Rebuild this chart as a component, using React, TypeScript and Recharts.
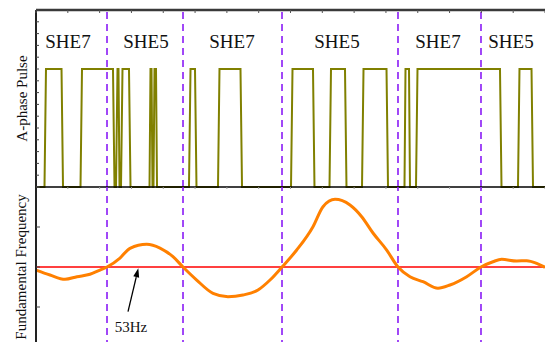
import React from 'react';
import { LineChart, Line, XAxis, YAxis, ReferenceLine, ReferenceDot } from 'recharts';

// Time axis (ms) and its tick marks
const timeTicks = [0, 10, 20, 30, 40, 50, 60, 70, 80, 90, 100, 110, 120, 130, 140, 150, 160];

// Instants where the modulation switches between SHE schemes
const switchTimes = [22.32, 46.21, 77.33, 113.79, 139.88];

// Scheme names and where they sit along the time axis
const schemeNames = ['SHE7', 'SHE5', 'SHE7', 'SHE5', 'SHE7', 'SHE5'];
const schemeCenters = [10.06, 34.58, 61.61, 94.62, 126.36, 149.31];

// A-phase switching pulse: [time, level]
const pulsePoints: [number, number][] = [
  [0, 0], [2.67, 0], [3.14, 1], [8.02, 1], [8.49, 0],
  [13.99, 0], [14.46, 1], [24.2, 1], [24.68, 0],
  [25.15, 0], [25.62, 1], [25.93, 1], [26.25, 0],
  [26.72, 0], [27.19, 1], [29.23, 1], [29.71, 0],
  [35.68, 0], [35.99, 1], [36.31, 1], [36.62, 0],
  [36.93, 0], [37.25, 1], [37.72, 1], [38.04, 0],
  [48.09, 0], [48.57, 1], [49.98, 1], [50.45, 0],
  [57.21, 0], [57.68, 1], [64.28, 1], [64.76, 0],
  [80.16, 0], [80.63, 1], [87.07, 1], [87.54, 0],
  [92.26, 0], [92.73, 1], [97.13, 1], [97.6, 0],
  [102.48, 0], [102.95, 1], [110.18, 1], [110.65, 0],
  [115.83, 0], [116.15, 1], [117.25, 1], [117.56, 0],
  [119.45, 0], [119.92, 1], [145.85, 1], [146.33, 0],
  [151.51, 0], [151.98, 1], [155.76, 1], [156.23, 0],
  [160, 0],
];
const pulseTicks = [0, 0.1, 0.2, 0.3, 0.4, 0.5, 0.6, 0.7, 0.8, 0.9, 1, 1.1, 1.2, 1.3, 1.4, 1.5];

// Fundamental frequency (Hz) over time
const freqTimes = [
  0, 4.4, 9.12, 12.89, 16.97, 20.12, 22.32, 26.4, 29.55, 34.8, 38.98, 43.06, 46.21,
  50.51, 55.64, 60.35, 65.07, 69.78, 73.56, 77.33, 81.95, 87.07, 90.22, 93.99, 98.7,
  102.38, 105.93, 110.24, 113.79, 117.56, 121.65, 126.36, 130.14, 135.39, 139.88,
  143.65, 146.39, 151.1, 154.25, 157.39, 160,
];
const freqValues = [
  52.962, 52.9, 52.846, 52.879, 52.909, 52.962, 53.0, 53.112, 53.234, 53.284, 53.237, 53.129, 53.0,
  52.837, 52.671, 52.629, 52.65, 52.712, 52.837, 53.0, 53.212, 53.504, 53.754, 53.846, 53.775,
  53.629, 53.425, 53.212, 53.0, 52.879, 52.816, 52.734, 52.775, 52.879, 53.0,
  53.066, 53.096, 53.075, 53.079, 53.046, 52.996,
];
const freqTicks = [52, 52.5, 53, 53.5, 54];
const nominalFreq = 53;
const nominalLabel = '53Hz';
// arrow from the label up to the nominal line, and the label anchor
const arrowFrom = { t: 28.92, f: 52.441 };
const arrowTo = { t: 32.16, f: 52.984 };
const labelAt = { t: 29.86, f: 52.25 };

const pulseData = pulsePoints.map(([t, v]) => ({ t, v }));
const freqData = freqTimes.map((t, i) => ({ t, f: freqValues[i] }));

const FONT = '"Liberation Serif", "Times New Roman", serif';
const AXIS = '#222';
const DASH = '#8a1cf5';

const axisTitle = (text: string, baseX: number) => (props: any) => {
  const vb = props.viewBox || {};
  const cy = vb.y + vb.height / 2;
  return (
    <text
      x={baseX}
      y={cy}
      transform={`rotate(-90 ${baseX} ${cy})`}
      textAnchor="middle"
      fontFamily={FONT}
      fontSize={15}
      fill="#111"
    >
      {text}
    </text>
  );
};

// inward-pointing tick marks drawn at each tick position
const leftTick = (len: number) => (p: any) => (
  <line x1={p.x} y1={p.y} x2={p.x + len} y2={p.y} stroke="#444" strokeWidth={1} />
);
const topTick = (len: number, color: string) => (p: any) => (
  <line x1={p.x} y1={p.y} x2={p.x} y2={p.y + len} stroke={color} strokeWidth={1} />
);

const switchLines = switchTimes.map((t) => (
  <ReferenceLine
    key={t}
    x={t}
    stroke={DASH}
    strokeWidth={1.6}
    strokeDasharray="7 5"
  />
));

export default function App() {
  return (
    <div style={{ position: 'absolute', left: 0, top: 0, width: 545, height: 342, overflow: 'hidden', background: '#fff' }}>
      <div style={{ position: 'absolute', left: 0, top: 0 }}>
        <LineChart width={545} height={190} data={pulseData} margin={{ top: 0, right: 0, bottom: 0, left: 0 }}>
          <XAxis
            dataKey="t"
            type="number"
            domain={[0, 160]}
            ticks={timeTicks}
            interval={0}
            height={3}
            tickSize={0}
            tickMargin={0}
            tickLine={false}
            tick={topTick(2, '#999')}
            axisLine={{ stroke: '#000', strokeWidth: 1.5 }}
          />
          <XAxis
            xAxisId="top"
            orientation="top"
            dataKey="t"
            type="number"
            domain={[0, 160]}
            ticks={timeTicks}
            interval={0}
            height={10}
            tickSize={0}
            tickMargin={0}
            tickLine={false}
            tick={topTick(3, '#555')}
            axisLine={{ stroke: '#3a3a3a', strokeWidth: 2.5 }}
          />
          <YAxis
            type="number"
            domain={[0, 1.5]}
            ticks={pulseTicks}
            interval={0}
            width={36}
            tickSize={0}
            tickMargin={0}
            tickLine={false}
            tick={leftTick(3)}
            axisLine={{ stroke: AXIS, strokeWidth: 2 }}
            label={{ content: axisTitle('A-phase Pulse', 27) }}
          />
          {switchLines}
          {schemeNames.map((name, i) => (
            <ReferenceDot
              key={`${name}-${i}`}
              x={schemeCenters[i]}
              y={1.24}
              r={0}
              shape={(p: any) => (
                <text x={p.cx} y={p.cy + 7} textAnchor="middle" fontFamily={FONT} fontSize={19} fill="#111">
                  {name}
                </text>
              )}
            />
          ))}
          <Line
            type="linear"
            dataKey="v"
            stroke="#808000"
            strokeWidth={2}
            dot={false}
            isAnimationActive={false}
          />
        </LineChart>
      </div>
      <div style={{ position: 'absolute', left: 0, top: 177 }}>
        <LineChart width={545} height={173} data={freqData} margin={{ top: 0, right: 0, bottom: 0, left: 0 }}>
          <XAxis
            dataKey="t"
            type="number"
            domain={[0, 160]}
            ticks={timeTicks}
            tick={false}
            height={3}
            axisLine={false}
            tickLine={false}
          />
          <XAxis
            xAxisId="top"
            orientation="top"
            dataKey="t"
            type="number"
            domain={[0, 160]}
            ticks={timeTicks}
            tick={false}
            height={10}
            axisLine={false}
            tickLine={false}
          />
          <YAxis
            type="number"
            domain={[52, 54]}
            ticks={freqTicks}
            interval={0}
            width={36}
            tickSize={0}
            tickMargin={0}
            tickLine={false}
            tick={leftTick(4)}
            axisLine={{ stroke: AXIS, strokeWidth: 2 }}
            label={{ content: axisTitle('Fundamental Frequency', 25.5) }}
          />
          {switchLines}
          <ReferenceLine y={nominalFreq} stroke="#ff4040" strokeWidth={2} />
          <Line
            type="monotone"
            dataKey="f"
            stroke="#ff8000"
            strokeWidth={3}
            dot={false}
            isAnimationActive={false}
          />
          <ReferenceLine
            segment={[{ x: arrowFrom.t, y: arrowFrom.f }, { x: arrowTo.t, y: arrowTo.f }]}
            stroke="#000"
            shape={(p: any) => {
              const { x1, y1, x2, y2 } = p;
              const dx = x2 - x1;
              const dy = y2 - y1;
              const len = Math.sqrt(dx * dx + dy * dy) || 1;
              const ux = dx / len;
              const uy = dy / len;
              const hl = 9;
              const hw = 3;
              const bx = x2 - ux * hl;
              const by = y2 - uy * hl;
              return (
                <g>
                  <line x1={x1} y1={y1} x2={bx} y2={by} stroke="#000" strokeWidth={1.3} />
                  <polygon
                    points={`${x2},${y2} ${bx - uy * hw},${by + ux * hw} ${bx + uy * hw},${by - ux * hw}`}
                    fill="#000"
                  />
                </g>
              );
            }}
          />
          <ReferenceDot
            x={labelAt.t}
            y={labelAt.f}
            r={0}
            shape={(p: any) => (
              <text x={p.cx} y={p.cy + 5} textAnchor="middle" fontFamily={FONT} fontSize={15} fill="#111">
                {nominalLabel}
              </text>
            )}
          />
        </LineChart>
      </div>
    </div>
  );
}
